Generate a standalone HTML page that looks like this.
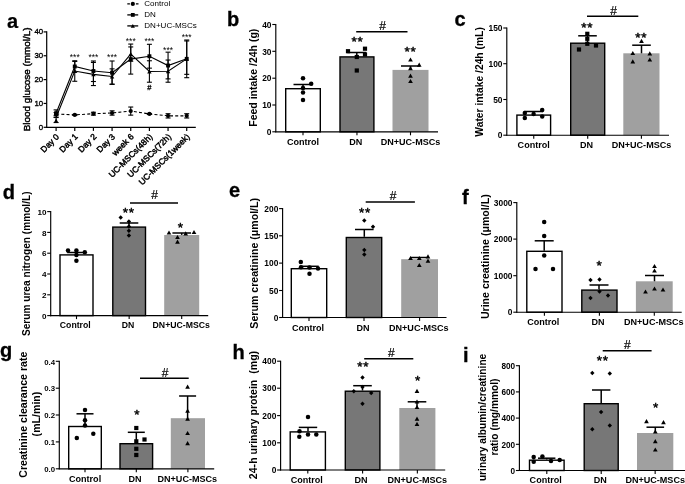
<!DOCTYPE html><html><head><meta charset="utf-8"><title>Figure</title>
<style>html,body{margin:0;padding:0;background:#fff;}svg{display:block;will-change:transform;filter:grayscale(1) blur(0.35px);}text{font-family:"Liberation Sans",sans-serif;fill:#000;}</style></head><body>
<svg width="685" height="484" viewBox="0 0 685 484">
<rect width="685" height="484" fill="#fff"/>
<line x1="46.70" y1="31.30" x2="46.70" y2="127.90" stroke="#000" stroke-width="1.2" />
<line x1="46.10" y1="127.30" x2="195.80" y2="127.30" stroke="#000" stroke-width="1.2" />
<line x1="43.60" y1="127.30" x2="46.70" y2="127.30" stroke="#000" stroke-width="1.2" />
<text x="43.20" y="129.80" font-size="7.8" font-weight="normal" text-anchor="end" stroke="#000" stroke-width="0.35">0</text>
<line x1="43.60" y1="103.45" x2="46.70" y2="103.45" stroke="#000" stroke-width="1.2" />
<text x="43.20" y="105.95" font-size="7.8" font-weight="normal" text-anchor="end" stroke="#000" stroke-width="0.35">10</text>
<line x1="43.60" y1="79.60" x2="46.70" y2="79.60" stroke="#000" stroke-width="1.2" />
<text x="43.20" y="82.10" font-size="7.8" font-weight="normal" text-anchor="end" stroke="#000" stroke-width="0.35">20</text>
<line x1="43.60" y1="55.75" x2="46.70" y2="55.75" stroke="#000" stroke-width="1.2" />
<text x="43.20" y="58.25" font-size="7.8" font-weight="normal" text-anchor="end" stroke="#000" stroke-width="0.35">30</text>
<line x1="43.60" y1="31.90" x2="46.70" y2="31.90" stroke="#000" stroke-width="1.2" />
<text x="43.20" y="34.40" font-size="7.8" font-weight="normal" text-anchor="end" stroke="#000" stroke-width="0.35">40</text>
<line x1="56.10" y1="127.30" x2="56.10" y2="130.90" stroke="#000" stroke-width="1.2" />
<line x1="74.76" y1="127.30" x2="74.76" y2="130.90" stroke="#000" stroke-width="1.2" />
<line x1="93.42" y1="127.30" x2="93.42" y2="130.90" stroke="#000" stroke-width="1.2" />
<line x1="112.08" y1="127.30" x2="112.08" y2="130.90" stroke="#000" stroke-width="1.2" />
<line x1="130.74" y1="127.30" x2="130.74" y2="130.90" stroke="#000" stroke-width="1.2" />
<line x1="149.40" y1="127.30" x2="149.40" y2="130.90" stroke="#000" stroke-width="1.2" />
<line x1="168.06" y1="127.30" x2="168.06" y2="130.90" stroke="#000" stroke-width="1.2" />
<line x1="186.72" y1="127.30" x2="186.72" y2="130.90" stroke="#000" stroke-width="1.2" />
<text x="59.70" y="137.30" font-size="8.45" font-weight="normal" text-anchor="end" transform="rotate(-45 59.70 137.30)" stroke="#000" stroke-width="0.45">Day 0</text>
<text x="78.36" y="137.30" font-size="8.45" font-weight="normal" text-anchor="end" transform="rotate(-45 78.36 137.30)" stroke="#000" stroke-width="0.45">Day 1</text>
<text x="97.02" y="137.30" font-size="8.45" font-weight="normal" text-anchor="end" transform="rotate(-45 97.02 137.30)" stroke="#000" stroke-width="0.45">Day 2</text>
<text x="115.68" y="137.30" font-size="8.45" font-weight="normal" text-anchor="end" transform="rotate(-45 115.68 137.30)" stroke="#000" stroke-width="0.45">Day 3</text>
<text x="134.34" y="137.30" font-size="8.45" font-weight="normal" text-anchor="end" transform="rotate(-45 134.34 137.30)" stroke="#000" stroke-width="0.45">week 6</text>
<text x="153.00" y="137.30" font-size="8.45" font-weight="normal" text-anchor="end" transform="rotate(-45 153.00 137.30)" stroke="#000" stroke-width="0.45">UC-MSCs(48h)</text>
<text x="171.66" y="137.30" font-size="8.45" font-weight="normal" text-anchor="end" transform="rotate(-45 171.66 137.30)" stroke="#000" stroke-width="0.45">UC-MSCs(72h)</text>
<text x="190.32" y="137.30" font-size="8.45" font-weight="normal" text-anchor="end" transform="rotate(-45 190.32 137.30)" stroke="#000" stroke-width="0.45">UC-MSCs(1week)</text>
<text x="29.70" y="79.40" font-size="9.9" font-weight="normal" text-anchor="middle" transform="rotate(-90 29.70 79.40)" stroke="#000" stroke-width="0.45">Blood glucose (mmol/L)</text>
<text x="7.00" y="27.50" font-size="20" font-weight="bold" text-anchor="start" stroke="#000" stroke-width="0.2">a</text>
<polyline points="56.10,113.94 74.76,114.90 93.42,113.71 112.08,112.99 130.74,111.08 149.40,113.94 168.06,115.85 186.72,115.85" fill="none" stroke="#000" stroke-width="1.1" stroke-dasharray="3 2.2"/>
<polyline points="56.10,113.23 74.76,66.48 93.42,71.01 112.08,72.68 130.74,59.09 149.40,56.23 168.06,65.53 186.72,58.85" fill="none" stroke="#000" stroke-width="1.1"/>
<polyline points="56.10,117.52 74.76,71.01 93.42,74.35 112.08,76.50 130.74,54.08 149.40,71.49 168.06,71.25 186.72,58.85" fill="none" stroke="#000" stroke-width="1.1"/>
<line x1="56.10" y1="112.51" x2="56.10" y2="115.38" stroke="#000" stroke-width="1.1" />
<line x1="53.60" y1="112.51" x2="58.60" y2="112.51" stroke="#000" stroke-width="1.1" />
<line x1="53.60" y1="115.38" x2="58.60" y2="115.38" stroke="#000" stroke-width="1.1" />
<line x1="56.10" y1="109.89" x2="56.10" y2="117.52" stroke="#000" stroke-width="1.1" />
<line x1="53.60" y1="109.89" x2="58.60" y2="109.89" stroke="#000" stroke-width="1.1" />
<line x1="53.60" y1="117.52" x2="58.60" y2="117.52" stroke="#000" stroke-width="1.1" />
<line x1="56.10" y1="117.04" x2="56.10" y2="122.53" stroke="#000" stroke-width="1.1" />
<line x1="53.60" y1="117.04" x2="58.60" y2="117.04" stroke="#000" stroke-width="1.1" />
<line x1="53.60" y1="122.53" x2="58.60" y2="122.53" stroke="#000" stroke-width="1.1" />
<circle cx="56.10" cy="113.94" r="2.1" fill="#000"/>
<rect x="54.15" y="111.28" width="3.9" height="3.9" fill="#000"/>
<path d="M56.10 118.52 L58.30 122.48 L53.90 122.48Z" fill="#000"/>
<line x1="74.76" y1="114.42" x2="74.76" y2="115.38" stroke="#000" stroke-width="1.1" />
<line x1="72.26" y1="114.42" x2="77.26" y2="114.42" stroke="#000" stroke-width="1.1" />
<line x1="72.26" y1="115.38" x2="77.26" y2="115.38" stroke="#000" stroke-width="1.1" />
<line x1="74.76" y1="60.76" x2="74.76" y2="72.21" stroke="#000" stroke-width="1.1" />
<line x1="72.26" y1="60.76" x2="77.26" y2="60.76" stroke="#000" stroke-width="1.1" />
<line x1="72.26" y1="72.21" x2="77.26" y2="72.21" stroke="#000" stroke-width="1.1" />
<line x1="74.76" y1="61.47" x2="74.76" y2="81.27" stroke="#000" stroke-width="1.1" />
<line x1="72.26" y1="61.47" x2="77.26" y2="61.47" stroke="#000" stroke-width="1.1" />
<line x1="72.26" y1="81.27" x2="77.26" y2="81.27" stroke="#000" stroke-width="1.1" />
<circle cx="74.76" cy="114.90" r="2.1" fill="#000"/>
<rect x="72.81" y="64.53" width="3.9" height="3.9" fill="#000"/>
<path d="M74.76 69.03 L76.96 72.99 L72.56 72.99Z" fill="#000"/>
<line x1="93.42" y1="112.27" x2="93.42" y2="115.14" stroke="#000" stroke-width="1.1" />
<line x1="90.92" y1="112.27" x2="95.92" y2="112.27" stroke="#000" stroke-width="1.1" />
<line x1="90.92" y1="115.14" x2="95.92" y2="115.14" stroke="#000" stroke-width="1.1" />
<line x1="93.42" y1="61.00" x2="93.42" y2="81.51" stroke="#000" stroke-width="1.1" />
<line x1="90.92" y1="61.00" x2="95.92" y2="61.00" stroke="#000" stroke-width="1.1" />
<line x1="90.92" y1="81.51" x2="95.92" y2="81.51" stroke="#000" stroke-width="1.1" />
<line x1="93.42" y1="62.43" x2="93.42" y2="85.56" stroke="#000" stroke-width="1.1" />
<line x1="90.92" y1="62.43" x2="95.92" y2="62.43" stroke="#000" stroke-width="1.1" />
<line x1="90.92" y1="85.56" x2="95.92" y2="85.56" stroke="#000" stroke-width="1.1" />
<circle cx="93.42" cy="113.71" r="2.1" fill="#000"/>
<rect x="91.47" y="69.06" width="3.9" height="3.9" fill="#000"/>
<path d="M93.42 72.37 L95.62 76.33 L91.22 76.33Z" fill="#000"/>
<line x1="112.08" y1="110.84" x2="112.08" y2="115.14" stroke="#000" stroke-width="1.1" />
<line x1="109.58" y1="110.84" x2="114.58" y2="110.84" stroke="#000" stroke-width="1.1" />
<line x1="109.58" y1="115.14" x2="114.58" y2="115.14" stroke="#000" stroke-width="1.1" />
<line x1="112.08" y1="61.00" x2="112.08" y2="84.37" stroke="#000" stroke-width="1.1" />
<line x1="109.58" y1="61.00" x2="114.58" y2="61.00" stroke="#000" stroke-width="1.1" />
<line x1="109.58" y1="84.37" x2="114.58" y2="84.37" stroke="#000" stroke-width="1.1" />
<line x1="112.08" y1="68.87" x2="112.08" y2="84.13" stroke="#000" stroke-width="1.1" />
<line x1="109.58" y1="68.87" x2="114.58" y2="68.87" stroke="#000" stroke-width="1.1" />
<line x1="109.58" y1="84.13" x2="114.58" y2="84.13" stroke="#000" stroke-width="1.1" />
<circle cx="112.08" cy="112.99" r="2.1" fill="#000"/>
<rect x="110.13" y="70.73" width="3.9" height="3.9" fill="#000"/>
<path d="M112.08 74.52 L114.28 78.48 L109.88 78.48Z" fill="#000"/>
<line x1="130.74" y1="107.03" x2="130.74" y2="115.14" stroke="#000" stroke-width="1.1" />
<line x1="128.24" y1="107.03" x2="133.24" y2="107.03" stroke="#000" stroke-width="1.1" />
<line x1="128.24" y1="115.14" x2="133.24" y2="115.14" stroke="#000" stroke-width="1.1" />
<line x1="130.74" y1="44.06" x2="130.74" y2="74.11" stroke="#000" stroke-width="1.1" />
<line x1="128.24" y1="44.06" x2="133.24" y2="44.06" stroke="#000" stroke-width="1.1" />
<line x1="128.24" y1="74.11" x2="133.24" y2="74.11" stroke="#000" stroke-width="1.1" />
<line x1="130.74" y1="46.93" x2="130.74" y2="61.24" stroke="#000" stroke-width="1.1" />
<line x1="128.24" y1="46.93" x2="133.24" y2="46.93" stroke="#000" stroke-width="1.1" />
<line x1="128.24" y1="61.24" x2="133.24" y2="61.24" stroke="#000" stroke-width="1.1" />
<circle cx="130.74" cy="111.08" r="2.1" fill="#000"/>
<rect x="128.79" y="57.14" width="3.9" height="3.9" fill="#000"/>
<path d="M130.74 52.10 L132.94 56.06 L128.54 56.06Z" fill="#000"/>
<line x1="149.40" y1="113.47" x2="149.40" y2="114.42" stroke="#000" stroke-width="1.1" />
<line x1="146.90" y1="113.47" x2="151.90" y2="113.47" stroke="#000" stroke-width="1.1" />
<line x1="146.90" y1="114.42" x2="151.90" y2="114.42" stroke="#000" stroke-width="1.1" />
<line x1="149.40" y1="44.30" x2="149.40" y2="68.15" stroke="#000" stroke-width="1.1" />
<line x1="146.90" y1="44.30" x2="151.90" y2="44.30" stroke="#000" stroke-width="1.1" />
<line x1="146.90" y1="68.15" x2="151.90" y2="68.15" stroke="#000" stroke-width="1.1" />
<line x1="149.40" y1="60.76" x2="149.40" y2="82.22" stroke="#000" stroke-width="1.1" />
<line x1="146.90" y1="60.76" x2="151.90" y2="60.76" stroke="#000" stroke-width="1.1" />
<line x1="146.90" y1="82.22" x2="151.90" y2="82.22" stroke="#000" stroke-width="1.1" />
<circle cx="149.40" cy="113.94" r="2.1" fill="#000"/>
<rect x="147.45" y="54.28" width="3.9" height="3.9" fill="#000"/>
<path d="M149.40 69.51 L151.60 73.47 L147.20 73.47Z" fill="#000"/>
<line x1="168.06" y1="113.71" x2="168.06" y2="118.00" stroke="#000" stroke-width="1.1" />
<line x1="165.56" y1="113.71" x2="170.56" y2="113.71" stroke="#000" stroke-width="1.1" />
<line x1="165.56" y1="118.00" x2="170.56" y2="118.00" stroke="#000" stroke-width="1.1" />
<line x1="168.06" y1="52.17" x2="168.06" y2="78.88" stroke="#000" stroke-width="1.1" />
<line x1="165.56" y1="52.17" x2="170.56" y2="52.17" stroke="#000" stroke-width="1.1" />
<line x1="165.56" y1="78.88" x2="170.56" y2="78.88" stroke="#000" stroke-width="1.1" />
<line x1="168.06" y1="60.04" x2="168.06" y2="82.22" stroke="#000" stroke-width="1.1" />
<line x1="165.56" y1="60.04" x2="170.56" y2="60.04" stroke="#000" stroke-width="1.1" />
<line x1="165.56" y1="82.22" x2="170.56" y2="82.22" stroke="#000" stroke-width="1.1" />
<circle cx="168.06" cy="115.85" r="2.1" fill="#000"/>
<rect x="166.11" y="63.58" width="3.9" height="3.9" fill="#000"/>
<path d="M168.06 69.27 L170.26 73.23 L165.86 73.23Z" fill="#000"/>
<line x1="186.72" y1="113.71" x2="186.72" y2="118.00" stroke="#000" stroke-width="1.1" />
<line x1="184.22" y1="113.71" x2="189.22" y2="113.71" stroke="#000" stroke-width="1.1" />
<line x1="184.22" y1="118.00" x2="189.22" y2="118.00" stroke="#000" stroke-width="1.1" />
<line x1="186.72" y1="40.01" x2="186.72" y2="77.69" stroke="#000" stroke-width="1.1" />
<line x1="184.22" y1="40.01" x2="189.22" y2="40.01" stroke="#000" stroke-width="1.1" />
<line x1="184.22" y1="77.69" x2="189.22" y2="77.69" stroke="#000" stroke-width="1.1" />
<line x1="186.72" y1="40.96" x2="186.72" y2="74.35" stroke="#000" stroke-width="1.1" />
<line x1="184.22" y1="40.96" x2="189.22" y2="40.96" stroke="#000" stroke-width="1.1" />
<line x1="184.22" y1="74.35" x2="189.22" y2="74.35" stroke="#000" stroke-width="1.1" />
<circle cx="186.72" cy="115.85" r="2.1" fill="#000"/>
<rect x="184.77" y="56.90" width="3.9" height="3.9" fill="#000"/>
<path d="M186.72 56.87 L188.92 60.83 L184.52 60.83Z" fill="#000"/>
<text x="74.76" y="60.00" font-size="8.5" font-weight="normal" text-anchor="middle" >***</text>
<text x="93.42" y="60.00" font-size="8.5" font-weight="normal" text-anchor="middle" >***</text>
<text x="112.08" y="60.00" font-size="8.5" font-weight="normal" text-anchor="middle" >***</text>
<text x="130.74" y="43.90" font-size="8.5" font-weight="normal" text-anchor="middle" >***</text>
<text x="149.40" y="43.90" font-size="8.5" font-weight="normal" text-anchor="middle" >***</text>
<text x="168.06" y="52.50" font-size="8.5" font-weight="normal" text-anchor="middle" >***</text>
<text x="186.72" y="39.90" font-size="8.5" font-weight="normal" text-anchor="middle" >***</text>
<text x="149.40" y="89.60" font-size="7.6" font-weight="normal" text-anchor="middle" stroke="#000" stroke-width="0.3">#</text>
<line x1="127.30" y1="3.90" x2="138.50" y2="3.90" stroke="#000" stroke-width="1.2" stroke-dasharray="2.6 1.7"/>
<circle cx="132.80" cy="3.90" r="2.1" fill="#000"/>
<text x="144.30" y="6.10" font-size="8.05" font-weight="normal" text-anchor="start" >Control</text>
<line x1="127.30" y1="14.90" x2="138.20" y2="14.90" stroke="#000" stroke-width="1.3" />
<rect x="130.90" y="13.00" width="3.8" height="3.8" fill="#000"/>
<text x="144.30" y="17.10" font-size="8.05" font-weight="normal" text-anchor="start" >DN</text>
<line x1="127.30" y1="25.90" x2="138.20" y2="25.90" stroke="#000" stroke-width="1.3" />
<path d="M132.80 24.01 L134.90 27.79 L130.70 27.79Z" fill="#000"/>
<text x="144.30" y="28.10" font-size="8.05" font-weight="normal" text-anchor="start" >DN+UC-MSCs</text>
<rect x="285.70" y="88.70" width="34.60" height="43.10" fill="#fff" stroke="#000" stroke-width="1.4"/>
<rect x="340.00" y="56.90" width="33.90" height="74.90" fill="#777777" stroke="#000" stroke-width="1.4"/>
<rect x="392.50" y="69.90" width="36.00" height="61.90" fill="#a0a0a0"/>
<line x1="275.80" y1="23.95" x2="275.80" y2="132.35" stroke="#000" stroke-width="1.15" />
<line x1="275.25" y1="131.80" x2="438.00" y2="131.80" stroke="#000" stroke-width="1.15" />
<line x1="272.30" y1="24.50" x2="275.80" y2="24.50" stroke="#000" stroke-width="1.1" />
<text x="271.50" y="27.70" font-size="8.4" font-weight="bold" text-anchor="end" >40</text>
<line x1="272.30" y1="51.30" x2="275.80" y2="51.30" stroke="#000" stroke-width="1.1" />
<text x="271.50" y="54.50" font-size="8.4" font-weight="bold" text-anchor="end" >30</text>
<line x1="272.30" y1="78.20" x2="275.80" y2="78.20" stroke="#000" stroke-width="1.1" />
<text x="271.50" y="81.40" font-size="8.4" font-weight="bold" text-anchor="end" >20</text>
<line x1="272.30" y1="105.00" x2="275.80" y2="105.00" stroke="#000" stroke-width="1.1" />
<text x="271.50" y="108.20" font-size="8.4" font-weight="bold" text-anchor="end" >10</text>
<line x1="272.30" y1="131.80" x2="275.80" y2="131.80" stroke="#000" stroke-width="1.1" />
<text x="271.50" y="135.00" font-size="8.4" font-weight="bold" text-anchor="end" >0</text>
<line x1="303.00" y1="131.80" x2="303.00" y2="135.30" stroke="#000" stroke-width="1.1" />
<line x1="356.95" y1="131.80" x2="356.95" y2="135.30" stroke="#000" stroke-width="1.1" />
<line x1="410.50" y1="131.80" x2="410.50" y2="135.30" stroke="#000" stroke-width="1.1" />
<text x="303.00" y="144.60" font-size="9.05" font-weight="bold" text-anchor="middle" >Control</text>
<text x="355.80" y="144.60" font-size="9.05" font-weight="bold" text-anchor="middle" >DN</text>
<text x="410.50" y="144.60" font-size="9.05" font-weight="bold" text-anchor="middle" >DN+UC-MSCs</text>
<line x1="303.00" y1="84.50" x2="303.00" y2="88.00" stroke="#000" stroke-width="1.5" />
<line x1="293.50" y1="84.50" x2="312.50" y2="84.50" stroke="#000" stroke-width="1.5" />
<line x1="356.80" y1="52.50" x2="356.80" y2="56.20" stroke="#000" stroke-width="1.5" />
<line x1="347.30" y1="52.50" x2="366.30" y2="52.50" stroke="#000" stroke-width="1.5" />
<line x1="410.50" y1="66.00" x2="410.50" y2="69.50" stroke="#000" stroke-width="1.5" />
<line x1="401.00" y1="66.00" x2="420.00" y2="66.00" stroke="#000" stroke-width="1.5" />
<circle cx="303.00" cy="78.20" r="2.25" fill="#000"/>
<circle cx="311.20" cy="83.70" r="2.25" fill="#000"/>
<circle cx="303.00" cy="88.00" r="2.25" fill="#000"/>
<circle cx="303.00" cy="92.50" r="2.25" fill="#000"/>
<circle cx="303.00" cy="100.00" r="2.25" fill="#000"/>
<rect x="345.90" y="49.10" width="4.2" height="4.2" fill="#000"/>
<rect x="362.90" y="46.60" width="4.2" height="4.2" fill="#000"/>
<rect x="362.90" y="52.40" width="4.2" height="4.2" fill="#000"/>
<rect x="354.70" y="54.90" width="4.2" height="4.2" fill="#000"/>
<rect x="354.70" y="68.40" width="4.2" height="4.2" fill="#000"/>
<path d="M410.50 57.38 L412.85 61.62 L408.15 61.62Z" fill="#000"/>
<path d="M419.20 62.59 L421.55 66.81 L416.85 66.81Z" fill="#000"/>
<path d="M410.50 66.09 L412.85 70.31 L408.15 70.31Z" fill="#000"/>
<path d="M410.50 73.59 L412.85 77.81 L408.15 77.81Z" fill="#000"/>
<path d="M410.50 78.89 L412.85 83.11 L408.15 83.11Z" fill="#000"/>
<line x1="356.20" y1="31.80" x2="407.50" y2="31.80" stroke="#000" stroke-width="1.5" />
<text x="382.50" y="30.20" font-size="12" font-weight="normal" text-anchor="middle" stroke="#000" stroke-width="0.2">#</text>
<text x="357.50" y="46.00" font-size="13.5" font-weight="normal" text-anchor="middle" stroke="#000" stroke-width="0.45" letter-spacing="0.7">**</text>
<text x="410.50" y="56.00" font-size="13.5" font-weight="normal" text-anchor="middle" stroke="#000" stroke-width="0.45" letter-spacing="0.7">**</text>
<text x="256.60" y="77.70" font-size="10.5" font-weight="bold" text-anchor="middle" transform="rotate(-90 256.60 77.70)" >Feed intake /24h (g)</text>
<text x="227.00" y="26.00" font-size="20" font-weight="bold" text-anchor="start" stroke="#000" stroke-width="0.3">b</text>
<rect x="516.90" y="115.10" width="33.70" height="20.10" fill="#fff" stroke="#000" stroke-width="1.4"/>
<rect x="570.70" y="43.20" width="34.00" height="92.00" fill="#777777" stroke="#000" stroke-width="1.4"/>
<rect x="623.30" y="53.30" width="36.20" height="81.90" fill="#a0a0a0"/>
<line x1="506.80" y1="27.45" x2="506.80" y2="135.75" stroke="#000" stroke-width="1.15" />
<line x1="506.25" y1="135.20" x2="669.00" y2="135.20" stroke="#000" stroke-width="1.15" />
<line x1="503.30" y1="28.00" x2="506.80" y2="28.00" stroke="#000" stroke-width="1.1" />
<text x="502.50" y="31.20" font-size="8.4" font-weight="bold" text-anchor="end" >150</text>
<line x1="503.30" y1="63.70" x2="506.80" y2="63.70" stroke="#000" stroke-width="1.1" />
<text x="502.50" y="66.90" font-size="8.4" font-weight="bold" text-anchor="end" >100</text>
<line x1="503.30" y1="99.50" x2="506.80" y2="99.50" stroke="#000" stroke-width="1.1" />
<text x="502.50" y="102.70" font-size="8.4" font-weight="bold" text-anchor="end" >50</text>
<line x1="503.30" y1="135.20" x2="506.80" y2="135.20" stroke="#000" stroke-width="1.1" />
<text x="502.50" y="138.40" font-size="8.4" font-weight="bold" text-anchor="end" >0</text>
<line x1="533.75" y1="135.20" x2="533.75" y2="138.70" stroke="#000" stroke-width="1.1" />
<line x1="587.70" y1="135.20" x2="587.70" y2="138.70" stroke="#000" stroke-width="1.1" />
<line x1="641.40" y1="135.20" x2="641.40" y2="138.70" stroke="#000" stroke-width="1.1" />
<text x="533.70" y="147.80" font-size="9.05" font-weight="bold" text-anchor="middle" >Control</text>
<text x="586.60" y="147.80" font-size="9.05" font-weight="bold" text-anchor="middle" >DN</text>
<text x="641.50" y="147.80" font-size="9.05" font-weight="bold" text-anchor="middle" >DN+UC-MSCs</text>
<line x1="533.70" y1="111.50" x2="533.70" y2="114.80" stroke="#000" stroke-width="1.5" />
<line x1="524.40" y1="111.50" x2="543.00" y2="111.50" stroke="#000" stroke-width="1.5" />
<line x1="587.50" y1="35.80" x2="587.50" y2="42.50" stroke="#000" stroke-width="1.5" />
<line x1="578.20" y1="35.80" x2="596.80" y2="35.80" stroke="#000" stroke-width="1.5" />
<line x1="641.50" y1="45.20" x2="641.50" y2="53.30" stroke="#000" stroke-width="1.5" />
<line x1="632.20" y1="45.20" x2="650.80" y2="45.20" stroke="#000" stroke-width="1.5" />
<circle cx="524.80" cy="112.90" r="2.25" fill="#000"/>
<circle cx="524.80" cy="117.90" r="2.25" fill="#000"/>
<circle cx="533.60" cy="114.00" r="2.25" fill="#000"/>
<circle cx="542.20" cy="110.10" r="2.25" fill="#000"/>
<circle cx="542.20" cy="116.50" r="2.25" fill="#000"/>
<rect x="576.90" y="47.40" width="4.2" height="4.2" fill="#000"/>
<rect x="585.20" y="31.70" width="4.2" height="4.2" fill="#000"/>
<rect x="585.20" y="36.70" width="4.2" height="4.2" fill="#000"/>
<rect x="585.20" y="41.70" width="4.2" height="4.2" fill="#000"/>
<rect x="593.90" y="43.40" width="4.2" height="4.2" fill="#000"/>
<path d="M641.50 38.68 L643.85 42.91 L639.15 42.91Z" fill="#000"/>
<path d="M632.80 50.88 L635.15 55.12 L630.45 55.12Z" fill="#000"/>
<path d="M649.80 51.18 L652.15 55.41 L647.45 55.41Z" fill="#000"/>
<path d="M632.80 59.18 L635.15 63.41 L630.45 63.41Z" fill="#000"/>
<path d="M649.80 57.38 L652.15 61.62 L647.45 61.62Z" fill="#000"/>
<line x1="587.00" y1="16.20" x2="638.30" y2="16.20" stroke="#000" stroke-width="1.5" />
<text x="613.50" y="14.70" font-size="12" font-weight="normal" text-anchor="middle" stroke="#000" stroke-width="0.2">#</text>
<text x="587.30" y="32.00" font-size="13.5" font-weight="normal" text-anchor="middle" stroke="#000" stroke-width="0.45" letter-spacing="0.7">**</text>
<text x="641.20" y="42.00" font-size="13.5" font-weight="normal" text-anchor="middle" stroke="#000" stroke-width="0.45" letter-spacing="0.7">**</text>
<text x="482.70" y="81.90" font-size="10.3" font-weight="bold" text-anchor="middle" transform="rotate(-90 482.70 81.90)" >Water intake /24h (mL)</text>
<text x="454.50" y="26.30" font-size="20" font-weight="bold" text-anchor="start" stroke="#000" stroke-width="0.3">c</text>
<rect x="60.00" y="254.90" width="33.00" height="60.70" fill="#fff" stroke="#000" stroke-width="1.4"/>
<rect x="112.80" y="227.10" width="32.70" height="88.50" fill="#777777" stroke="#000" stroke-width="1.4"/>
<rect x="164.20" y="235.00" width="35.00" height="80.60" fill="#a0a0a0"/>
<line x1="50.70" y1="211.05" x2="50.70" y2="316.15" stroke="#000" stroke-width="1.15" />
<line x1="50.15" y1="315.60" x2="208.20" y2="315.60" stroke="#000" stroke-width="1.15" />
<line x1="47.20" y1="211.60" x2="50.70" y2="211.60" stroke="#000" stroke-width="1.1" />
<text x="46.40" y="214.80" font-size="8.1" font-weight="bold" text-anchor="end" >10</text>
<line x1="47.20" y1="232.40" x2="50.70" y2="232.40" stroke="#000" stroke-width="1.1" />
<text x="46.40" y="235.60" font-size="8.1" font-weight="bold" text-anchor="end" >8</text>
<line x1="47.20" y1="253.20" x2="50.70" y2="253.20" stroke="#000" stroke-width="1.1" />
<text x="46.40" y="256.40" font-size="8.1" font-weight="bold" text-anchor="end" >6</text>
<line x1="47.20" y1="274.00" x2="50.70" y2="274.00" stroke="#000" stroke-width="1.1" />
<text x="46.40" y="277.20" font-size="8.1" font-weight="bold" text-anchor="end" >4</text>
<line x1="47.20" y1="294.80" x2="50.70" y2="294.80" stroke="#000" stroke-width="1.1" />
<text x="46.40" y="298.00" font-size="8.1" font-weight="bold" text-anchor="end" >2</text>
<line x1="47.20" y1="315.60" x2="50.70" y2="315.60" stroke="#000" stroke-width="1.1" />
<text x="46.40" y="318.80" font-size="8.1" font-weight="bold" text-anchor="end" >0</text>
<line x1="76.50" y1="315.60" x2="76.50" y2="319.10" stroke="#000" stroke-width="1.1" />
<line x1="129.15" y1="315.60" x2="129.15" y2="319.10" stroke="#000" stroke-width="1.1" />
<line x1="181.70" y1="315.60" x2="181.70" y2="319.10" stroke="#000" stroke-width="1.1" />
<text x="75.30" y="327.90" font-size="8.7" font-weight="bold" text-anchor="middle" >Control</text>
<text x="128.00" y="327.90" font-size="8.7" font-weight="bold" text-anchor="middle" >DN</text>
<text x="181.20" y="327.90" font-size="8.7" font-weight="bold" text-anchor="middle" >DN+UC-MSCs</text>
<line x1="76.50" y1="252.50" x2="76.50" y2="254.20" stroke="#000" stroke-width="1.5" />
<line x1="67.20" y1="252.50" x2="85.80" y2="252.50" stroke="#000" stroke-width="1.5" />
<line x1="129.00" y1="223.00" x2="129.00" y2="226.50" stroke="#000" stroke-width="1.5" />
<line x1="119.70" y1="223.00" x2="138.30" y2="223.00" stroke="#000" stroke-width="1.5" />
<line x1="181.70" y1="233.00" x2="181.70" y2="234.90" stroke="#000" stroke-width="1.5" />
<line x1="172.40" y1="233.00" x2="191.00" y2="233.00" stroke="#000" stroke-width="1.5" />
<circle cx="68.00" cy="250.50" r="2.25" fill="#000"/>
<circle cx="76.40" cy="250.50" r="2.25" fill="#000"/>
<circle cx="84.80" cy="252.30" r="2.25" fill="#000"/>
<circle cx="76.40" cy="255.00" r="2.25" fill="#000"/>
<circle cx="76.40" cy="260.80" r="2.25" fill="#000"/>
<path d="M120.70 215.30 L122.90 217.50 L120.70 219.70 L118.50 217.50Z" fill="#000"/>
<path d="M128.90 219.30 L131.10 221.50 L128.90 223.70 L126.70 221.50Z" fill="#000"/>
<path d="M128.90 224.30 L131.10 226.50 L128.90 228.70 L126.70 226.50Z" fill="#000"/>
<path d="M128.90 228.50 L131.10 230.70 L128.90 232.90 L126.70 230.70Z" fill="#000"/>
<path d="M128.90 233.30 L131.10 235.50 L128.90 237.70 L126.70 235.50Z" fill="#000"/>
<path d="M169.00 230.38 L171.35 234.62 L166.65 234.62Z" fill="#000"/>
<path d="M177.50 234.88 L179.85 239.12 L175.15 239.12Z" fill="#000"/>
<path d="M185.70 231.19 L188.05 235.42 L183.35 235.42Z" fill="#000"/>
<path d="M194.00 229.88 L196.35 234.12 L191.65 234.12Z" fill="#000"/>
<path d="M177.50 239.58 L179.85 243.81 L175.15 243.81Z" fill="#000"/>
<line x1="130.00" y1="203.00" x2="178.00" y2="203.00" stroke="#000" stroke-width="1.5" />
<text x="154.60" y="199.20" font-size="12" font-weight="normal" text-anchor="middle" stroke="#000" stroke-width="0.2">#</text>
<text x="128.80" y="217.00" font-size="13.5" font-weight="normal" text-anchor="middle" stroke="#000" stroke-width="0.45" letter-spacing="0.7">**</text>
<text x="180.80" y="231.70" font-size="13.5" font-weight="normal" text-anchor="middle" stroke="#000" stroke-width="0.45" letter-spacing="0.7">*</text>
<text x="30.20" y="263.80" font-size="10.15" font-weight="bold" text-anchor="middle" transform="rotate(-90 30.20 263.80)" >Serum urea nitrogen (mmol/L)</text>
<text x="2.70" y="198.60" font-size="20" font-weight="bold" text-anchor="start" stroke="#000" stroke-width="0.3">d</text>
<rect x="291.30" y="268.70" width="35.40" height="48.80" fill="#fff" stroke="#000" stroke-width="1.4"/>
<rect x="346.30" y="237.50" width="35.40" height="80.00" fill="#777777" stroke="#000" stroke-width="1.4"/>
<rect x="401.20" y="259.20" width="36.80" height="58.30" fill="#a0a0a0"/>
<line x1="282.60" y1="208.05" x2="282.60" y2="318.05" stroke="#000" stroke-width="1.15" />
<line x1="282.05" y1="317.50" x2="446.50" y2="317.50" stroke="#000" stroke-width="1.15" />
<line x1="279.10" y1="208.60" x2="282.60" y2="208.60" stroke="#000" stroke-width="1.1" />
<text x="278.30" y="211.80" font-size="8.4" font-weight="bold" text-anchor="end" >200</text>
<line x1="279.10" y1="235.80" x2="282.60" y2="235.80" stroke="#000" stroke-width="1.1" />
<text x="278.30" y="239.00" font-size="8.4" font-weight="bold" text-anchor="end" >150</text>
<line x1="279.10" y1="263.10" x2="282.60" y2="263.10" stroke="#000" stroke-width="1.1" />
<text x="278.30" y="266.30" font-size="8.4" font-weight="bold" text-anchor="end" >100</text>
<line x1="279.10" y1="290.50" x2="282.60" y2="290.50" stroke="#000" stroke-width="1.1" />
<text x="278.30" y="293.70" font-size="8.4" font-weight="bold" text-anchor="end" >50</text>
<line x1="279.10" y1="317.50" x2="282.60" y2="317.50" stroke="#000" stroke-width="1.1" />
<text x="278.30" y="320.70" font-size="8.4" font-weight="bold" text-anchor="end" >0</text>
<line x1="309.00" y1="317.50" x2="309.00" y2="321.00" stroke="#000" stroke-width="1.1" />
<line x1="364.00" y1="317.50" x2="364.00" y2="321.00" stroke="#000" stroke-width="1.1" />
<line x1="419.60" y1="317.50" x2="419.60" y2="321.00" stroke="#000" stroke-width="1.1" />
<text x="308.00" y="330.80" font-size="9.05" font-weight="bold" text-anchor="middle" >Control</text>
<text x="363.00" y="330.80" font-size="9.05" font-weight="bold" text-anchor="middle" >DN</text>
<text x="418.80" y="330.80" font-size="9.05" font-weight="bold" text-anchor="middle" >DN+UC-MSCs</text>
<line x1="309.40" y1="266.30" x2="309.40" y2="268.00" stroke="#000" stroke-width="1.5" />
<line x1="300.10" y1="266.30" x2="318.70" y2="266.30" stroke="#000" stroke-width="1.5" />
<line x1="364.30" y1="229.50" x2="364.30" y2="236.80" stroke="#000" stroke-width="1.5" />
<line x1="355.00" y1="229.50" x2="373.60" y2="229.50" stroke="#000" stroke-width="1.5" />
<line x1="419.30" y1="257.50" x2="419.30" y2="259.20" stroke="#000" stroke-width="1.5" />
<line x1="410.00" y1="257.50" x2="428.60" y2="257.50" stroke="#000" stroke-width="1.5" />
<circle cx="300.80" cy="262.00" r="2.25" fill="#000"/>
<circle cx="309.50" cy="273.70" r="2.25" fill="#000"/>
<circle cx="318.00" cy="268.60" r="2.25" fill="#000"/>
<circle cx="301.00" cy="267.20" r="2.25" fill="#000"/>
<circle cx="309.50" cy="267.60" r="2.25" fill="#000"/>
<path d="M364.30 218.30 L366.50 220.50 L364.30 222.70 L362.10 220.50Z" fill="#000"/>
<path d="M373.00 224.50 L375.20 226.70 L373.00 228.90 L370.80 226.70Z" fill="#000"/>
<path d="M364.30 247.80 L366.50 250.00 L364.30 252.20 L362.10 250.00Z" fill="#000"/>
<path d="M364.30 252.30 L366.50 254.50 L364.30 256.70 L362.10 254.50Z" fill="#000"/>
<path d="M410.50 255.88 L412.85 260.12 L408.15 260.12Z" fill="#000"/>
<path d="M419.30 255.88 L421.65 260.12 L416.95 260.12Z" fill="#000"/>
<path d="M428.00 254.19 L430.35 258.42 L425.65 258.42Z" fill="#000"/>
<path d="M419.30 262.88 L421.65 267.12 L416.95 267.12Z" fill="#000"/>
<path d="M428.00 258.58 L430.35 262.81 L425.65 262.81Z" fill="#000"/>
<line x1="365.70" y1="201.90" x2="414.90" y2="201.90" stroke="#000" stroke-width="1.5" />
<text x="393.00" y="200.20" font-size="12" font-weight="normal" text-anchor="middle" stroke="#000" stroke-width="0.2">#</text>
<text x="365.00" y="217.00" font-size="13.5" font-weight="normal" text-anchor="middle" stroke="#000" stroke-width="0.45" letter-spacing="0.7">**</text>
<text x="257.80" y="263.30" font-size="10.6" font-weight="bold" text-anchor="middle" transform="rotate(-90 257.80 263.30)" >Serum creatinine (μmol/L)</text>
<text x="228.90" y="197.00" font-size="20" font-weight="bold" text-anchor="start" stroke="#000" stroke-width="0.3">e</text>
<rect x="526.80" y="251.30" width="35.20" height="60.90" fill="#fff" stroke="#000" stroke-width="1.4"/>
<rect x="581.80" y="290.10" width="35.20" height="22.10" fill="#777777" stroke="#000" stroke-width="1.4"/>
<rect x="635.90" y="281.30" width="36.80" height="30.90" fill="#a0a0a0"/>
<line x1="516.80" y1="202.05" x2="516.80" y2="312.75" stroke="#000" stroke-width="1.15" />
<line x1="516.25" y1="312.20" x2="681.70" y2="312.20" stroke="#000" stroke-width="1.15" />
<line x1="513.30" y1="202.60" x2="516.80" y2="202.60" stroke="#000" stroke-width="1.1" />
<text x="512.50" y="205.80" font-size="8.4" font-weight="bold" text-anchor="end" >3000</text>
<line x1="513.30" y1="239.10" x2="516.80" y2="239.10" stroke="#000" stroke-width="1.1" />
<text x="512.50" y="242.30" font-size="8.4" font-weight="bold" text-anchor="end" >2000</text>
<line x1="513.30" y1="275.70" x2="516.80" y2="275.70" stroke="#000" stroke-width="1.1" />
<text x="512.50" y="278.90" font-size="8.4" font-weight="bold" text-anchor="end" >1000</text>
<line x1="513.30" y1="312.20" x2="516.80" y2="312.20" stroke="#000" stroke-width="1.1" />
<text x="512.50" y="315.40" font-size="8.4" font-weight="bold" text-anchor="end" >0</text>
<line x1="544.40" y1="312.20" x2="544.40" y2="315.70" stroke="#000" stroke-width="1.1" />
<line x1="599.40" y1="312.20" x2="599.40" y2="315.70" stroke="#000" stroke-width="1.1" />
<line x1="654.30" y1="312.20" x2="654.30" y2="315.70" stroke="#000" stroke-width="1.1" />
<text x="543.30" y="324.80" font-size="9.05" font-weight="bold" text-anchor="middle" >Control</text>
<text x="598.10" y="324.80" font-size="9.05" font-weight="bold" text-anchor="middle" >DN</text>
<text x="653.80" y="324.80" font-size="9.05" font-weight="bold" text-anchor="middle" >DN+UC-MSCs</text>
<line x1="544.20" y1="240.80" x2="544.20" y2="250.70" stroke="#000" stroke-width="1.5" />
<line x1="534.70" y1="240.80" x2="553.70" y2="240.80" stroke="#000" stroke-width="1.5" />
<line x1="599.00" y1="285.00" x2="599.00" y2="289.30" stroke="#000" stroke-width="1.5" />
<line x1="589.50" y1="285.00" x2="608.50" y2="285.00" stroke="#000" stroke-width="1.5" />
<line x1="654.50" y1="275.50" x2="654.50" y2="281.30" stroke="#000" stroke-width="1.5" />
<line x1="645.00" y1="275.50" x2="664.00" y2="275.50" stroke="#000" stroke-width="1.5" />
<circle cx="544.20" cy="222.00" r="2.25" fill="#000"/>
<circle cx="544.20" cy="236.00" r="2.25" fill="#000"/>
<circle cx="544.20" cy="255.50" r="2.25" fill="#000"/>
<circle cx="535.50" cy="269.00" r="2.25" fill="#000"/>
<circle cx="553.00" cy="269.00" r="2.25" fill="#000"/>
<path d="M590.50 277.80 L592.70 280.00 L590.50 282.20 L588.30 280.00Z" fill="#000"/>
<path d="M599.50 277.30 L601.70 279.50 L599.50 281.70 L597.30 279.50Z" fill="#000"/>
<path d="M599.50 289.30 L601.70 291.50 L599.50 293.70 L597.30 291.50Z" fill="#000"/>
<path d="M590.50 295.80 L592.70 298.00 L590.50 300.20 L588.30 298.00Z" fill="#000"/>
<path d="M608.00 293.30 L610.20 295.50 L608.00 297.70 L605.80 295.50Z" fill="#000"/>
<path d="M654.50 263.88 L656.85 268.12 L652.15 268.12Z" fill="#000"/>
<path d="M645.50 289.38 L647.85 293.62 L643.15 293.62Z" fill="#000"/>
<path d="M654.50 286.38 L656.85 290.62 L652.15 290.62Z" fill="#000"/>
<path d="M663.00 287.38 L665.35 291.62 L660.65 291.62Z" fill="#000"/>
<path d="M654.50 268.38 L656.85 272.62 L652.15 272.62Z" fill="#000"/>
<text x="599.40" y="269.80" font-size="13.5" font-weight="normal" text-anchor="middle" stroke="#000" stroke-width="0.45" letter-spacing="0.7">*</text>
<text x="488.70" y="256.70" font-size="10.6" font-weight="bold" text-anchor="middle" transform="rotate(-90 488.70 256.70)" >Urine creatinine (μmol/L)</text>
<text x="462.00" y="204.30" font-size="20" font-weight="bold" text-anchor="start" stroke="#000" stroke-width="0.3">f</text>
<rect x="68.70" y="426.50" width="32.60" height="42.30" fill="#fff" stroke="#000" stroke-width="1.4"/>
<rect x="120.00" y="443.70" width="32.60" height="25.10" fill="#777777" stroke="#000" stroke-width="1.4"/>
<rect x="170.80" y="418.20" width="34.20" height="50.60" fill="#a0a0a0"/>
<line x1="59.30" y1="360.75" x2="59.30" y2="469.35" stroke="#000" stroke-width="1.15" />
<line x1="58.75" y1="468.80" x2="214.20" y2="468.80" stroke="#000" stroke-width="1.15" />
<line x1="55.80" y1="361.30" x2="59.30" y2="361.30" stroke="#000" stroke-width="1.1" />
<text x="55.00" y="364.50" font-size="7.8" font-weight="bold" text-anchor="end" >0.4</text>
<line x1="55.80" y1="388.20" x2="59.30" y2="388.20" stroke="#000" stroke-width="1.1" />
<text x="55.00" y="391.40" font-size="7.8" font-weight="bold" text-anchor="end" >0.3</text>
<line x1="55.80" y1="415.00" x2="59.30" y2="415.00" stroke="#000" stroke-width="1.1" />
<text x="55.00" y="418.20" font-size="7.8" font-weight="bold" text-anchor="end" >0.2</text>
<line x1="55.80" y1="441.90" x2="59.30" y2="441.90" stroke="#000" stroke-width="1.1" />
<text x="55.00" y="445.10" font-size="7.8" font-weight="bold" text-anchor="end" >0.1</text>
<line x1="55.80" y1="468.80" x2="59.30" y2="468.80" stroke="#000" stroke-width="1.1" />
<text x="55.00" y="472.00" font-size="7.8" font-weight="bold" text-anchor="end" >0.0</text>
<line x1="85.00" y1="468.80" x2="85.00" y2="472.30" stroke="#000" stroke-width="1.1" />
<line x1="136.30" y1="468.80" x2="136.30" y2="472.30" stroke="#000" stroke-width="1.1" />
<line x1="187.90" y1="468.80" x2="187.90" y2="472.30" stroke="#000" stroke-width="1.1" />
<text x="85.10" y="481.90" font-size="9.05" font-weight="bold" text-anchor="middle" >Control</text>
<text x="135.10" y="481.90" font-size="9.05" font-weight="bold" text-anchor="middle" >DN</text>
<text x="187.30" y="481.90" font-size="9.05" font-weight="bold" text-anchor="middle" >DN+UC-MSCs</text>
<line x1="85.00" y1="413.80" x2="85.00" y2="425.80" stroke="#000" stroke-width="1.5" />
<line x1="76.50" y1="413.80" x2="93.50" y2="413.80" stroke="#000" stroke-width="1.5" />
<line x1="136.30" y1="432.30" x2="136.30" y2="443.00" stroke="#000" stroke-width="1.5" />
<line x1="127.80" y1="432.30" x2="144.80" y2="432.30" stroke="#000" stroke-width="1.5" />
<line x1="187.60" y1="396.00" x2="187.60" y2="418.20" stroke="#000" stroke-width="1.5" />
<line x1="179.10" y1="396.00" x2="196.10" y2="396.00" stroke="#000" stroke-width="1.5" />
<circle cx="85.00" cy="410.00" r="2.25" fill="#000"/>
<circle cx="85.00" cy="420.20" r="2.25" fill="#000"/>
<circle cx="85.00" cy="425.50" r="2.25" fill="#000"/>
<circle cx="76.80" cy="438.00" r="2.25" fill="#000"/>
<circle cx="93.30" cy="433.80" r="2.25" fill="#000"/>
<rect x="134.20" y="425.90" width="4.2" height="4.2" fill="#000"/>
<rect x="142.40" y="437.40" width="4.2" height="4.2" fill="#000"/>
<rect x="134.20" y="439.20" width="4.2" height="4.2" fill="#000"/>
<rect x="134.20" y="446.70" width="4.2" height="4.2" fill="#000"/>
<rect x="134.20" y="452.90" width="4.2" height="4.2" fill="#000"/>
<path d="M187.60 384.58 L189.95 388.81 L185.25 388.81Z" fill="#000"/>
<path d="M187.60 408.58 L189.95 412.81 L185.25 412.81Z" fill="#000"/>
<path d="M187.60 416.58 L189.95 420.81 L185.25 420.81Z" fill="#000"/>
<path d="M187.60 430.88 L189.95 435.12 L185.25 435.12Z" fill="#000"/>
<path d="M187.60 441.08 L189.95 445.31 L185.25 445.31Z" fill="#000"/>
<line x1="140.00" y1="378.30" x2="188.70" y2="378.30" stroke="#000" stroke-width="1.5" />
<text x="165.00" y="376.70" font-size="12" font-weight="normal" text-anchor="middle" stroke="#000" stroke-width="0.2">#</text>
<text x="137.20" y="419.00" font-size="13.5" font-weight="normal" text-anchor="middle" stroke="#000" stroke-width="0.45" letter-spacing="0.7">*</text>
<text x="27.20" y="414.70" font-size="10.6" font-weight="bold" text-anchor="middle" transform="rotate(-90 27.20 414.70)" >Creatinine clearance rate</text>
<text x="39.50" y="414.00" font-size="10.6" font-weight="bold" text-anchor="middle" transform="rotate(-90 39.50 414.00)" >(mL/min)</text>
<text x="0.00" y="356.50" font-size="20" font-weight="bold" text-anchor="start" stroke="#000" stroke-width="0.3">g</text>
<rect x="290.20" y="431.90" width="35.20" height="38.10" fill="#fff" stroke="#000" stroke-width="1.4"/>
<rect x="345.30" y="391.20" width="34.60" height="78.80" fill="#777777" stroke="#000" stroke-width="1.4"/>
<rect x="399.30" y="408.00" width="36.10" height="62.00" fill="#a0a0a0"/>
<line x1="280.60" y1="360.65" x2="280.60" y2="470.55" stroke="#000" stroke-width="1.15" />
<line x1="280.05" y1="470.00" x2="445.20" y2="470.00" stroke="#000" stroke-width="1.15" />
<line x1="277.10" y1="361.20" x2="280.60" y2="361.20" stroke="#000" stroke-width="1.1" />
<text x="276.30" y="364.40" font-size="8.4" font-weight="bold" text-anchor="end" >400</text>
<line x1="277.10" y1="388.20" x2="280.60" y2="388.20" stroke="#000" stroke-width="1.1" />
<text x="276.30" y="391.40" font-size="8.4" font-weight="bold" text-anchor="end" >300</text>
<line x1="277.10" y1="415.60" x2="280.60" y2="415.60" stroke="#000" stroke-width="1.1" />
<text x="276.30" y="418.80" font-size="8.4" font-weight="bold" text-anchor="end" >200</text>
<line x1="277.10" y1="442.80" x2="280.60" y2="442.80" stroke="#000" stroke-width="1.1" />
<text x="276.30" y="446.00" font-size="8.4" font-weight="bold" text-anchor="end" >100</text>
<line x1="277.10" y1="470.00" x2="280.60" y2="470.00" stroke="#000" stroke-width="1.1" />
<text x="276.30" y="473.20" font-size="8.4" font-weight="bold" text-anchor="end" >0</text>
<line x1="307.80" y1="470.00" x2="307.80" y2="473.50" stroke="#000" stroke-width="1.1" />
<line x1="362.60" y1="470.00" x2="362.60" y2="473.50" stroke="#000" stroke-width="1.1" />
<line x1="417.35" y1="470.00" x2="417.35" y2="473.50" stroke="#000" stroke-width="1.1" />
<text x="306.80" y="482.80" font-size="9.05" font-weight="bold" text-anchor="middle" >Control</text>
<text x="361.10" y="482.80" font-size="9.05" font-weight="bold" text-anchor="middle" >DN</text>
<text x="417.30" y="482.80" font-size="9.05" font-weight="bold" text-anchor="middle" >DN+UC-MSCs</text>
<line x1="308.00" y1="427.40" x2="308.00" y2="431.20" stroke="#000" stroke-width="1.5" />
<line x1="298.80" y1="427.40" x2="317.20" y2="427.40" stroke="#000" stroke-width="1.5" />
<line x1="362.50" y1="385.70" x2="362.50" y2="390.50" stroke="#000" stroke-width="1.5" />
<line x1="353.20" y1="385.70" x2="371.80" y2="385.70" stroke="#000" stroke-width="1.5" />
<line x1="417.00" y1="401.80" x2="417.00" y2="408.00" stroke="#000" stroke-width="1.5" />
<line x1="407.70" y1="401.80" x2="426.30" y2="401.80" stroke="#000" stroke-width="1.5" />
<circle cx="308.00" cy="417.00" r="2.25" fill="#000"/>
<circle cx="299.30" cy="436.70" r="2.25" fill="#000"/>
<circle cx="308.00" cy="434.60" r="2.25" fill="#000"/>
<circle cx="316.30" cy="434.60" r="2.25" fill="#000"/>
<circle cx="299.50" cy="431.20" r="2.25" fill="#000"/>
<path d="M362.50 375.30 L364.70 377.50 L362.50 379.70 L360.30 377.50Z" fill="#000"/>
<path d="M353.80 389.00 L356.00 391.20 L353.80 393.40 L351.60 391.20Z" fill="#000"/>
<path d="M362.50 384.80 L364.70 387.00 L362.50 389.20 L360.30 387.00Z" fill="#000"/>
<path d="M371.20 390.80 L373.40 393.00 L371.20 395.20 L369.00 393.00Z" fill="#000"/>
<path d="M362.50 401.50 L364.70 403.70 L362.50 405.90 L360.30 403.70Z" fill="#000"/>
<path d="M417.00 388.69 L419.35 392.92 L414.65 392.92Z" fill="#000"/>
<path d="M417.00 399.38 L419.35 403.62 L414.65 403.62Z" fill="#000"/>
<path d="M417.00 404.88 L419.35 409.12 L414.65 409.12Z" fill="#000"/>
<path d="M417.00 416.58 L419.35 420.81 L414.65 420.81Z" fill="#000"/>
<path d="M417.00 421.69 L419.35 425.92 L414.65 425.92Z" fill="#000"/>
<line x1="364.20" y1="358.80" x2="413.30" y2="358.80" stroke="#000" stroke-width="1.5" />
<text x="391.30" y="357.20" font-size="12" font-weight="normal" text-anchor="middle" stroke="#000" stroke-width="0.2">#</text>
<text x="363.30" y="370.50" font-size="13.5" font-weight="normal" text-anchor="middle" stroke="#000" stroke-width="0.45" letter-spacing="0.7">**</text>
<text x="418.00" y="384.50" font-size="13.5" font-weight="normal" text-anchor="middle" stroke="#000" stroke-width="0.45" letter-spacing="0.7">*</text>
<text x="257.00" y="415.00" font-size="10.6" font-weight="bold" text-anchor="middle" transform="rotate(-90 257.00 415.00)" >24-h urinary protein&#160;&#160;(mg)</text>
<text x="232.50" y="358.50" font-size="20" font-weight="bold" text-anchor="start" stroke="#000" stroke-width="0.3">h</text>
<rect x="529.50" y="460.20" width="34.60" height="10.30" fill="#fff" stroke="#000" stroke-width="1.4"/>
<rect x="584.20" y="403.70" width="34.00" height="66.80" fill="#777777" stroke="#000" stroke-width="1.4"/>
<rect x="637.00" y="433.00" width="36.30" height="37.50" fill="#a0a0a0"/>
<line x1="519.40" y1="365.15" x2="519.40" y2="471.05" stroke="#000" stroke-width="1.15" />
<line x1="518.85" y1="470.50" x2="685.00" y2="470.50" stroke="#000" stroke-width="1.15" />
<line x1="515.90" y1="365.70" x2="519.40" y2="365.70" stroke="#000" stroke-width="1.1" />
<text x="515.10" y="368.90" font-size="8.2" font-weight="bold" text-anchor="end" >800</text>
<line x1="515.90" y1="391.90" x2="519.40" y2="391.90" stroke="#000" stroke-width="1.1" />
<text x="515.10" y="395.10" font-size="8.2" font-weight="bold" text-anchor="end" >600</text>
<line x1="515.90" y1="418.10" x2="519.40" y2="418.10" stroke="#000" stroke-width="1.1" />
<text x="515.10" y="421.30" font-size="8.2" font-weight="bold" text-anchor="end" >400</text>
<line x1="515.90" y1="444.30" x2="519.40" y2="444.30" stroke="#000" stroke-width="1.1" />
<text x="515.10" y="447.50" font-size="8.2" font-weight="bold" text-anchor="end" >200</text>
<line x1="515.90" y1="470.50" x2="519.40" y2="470.50" stroke="#000" stroke-width="1.1" />
<text x="515.10" y="473.70" font-size="8.2" font-weight="bold" text-anchor="end" >0</text>
<line x1="546.80" y1="470.50" x2="546.80" y2="474.00" stroke="#000" stroke-width="1.1" />
<line x1="601.20" y1="470.50" x2="601.20" y2="474.00" stroke="#000" stroke-width="1.1" />
<line x1="655.15" y1="470.50" x2="655.15" y2="474.00" stroke="#000" stroke-width="1.1" />
<text x="545.70" y="483.10" font-size="9.05" font-weight="bold" text-anchor="middle" >Control</text>
<text x="600.30" y="483.10" font-size="9.05" font-weight="bold" text-anchor="middle" >DN</text>
<text x="655.20" y="483.10" font-size="9.05" font-weight="bold" text-anchor="middle" >DN+UC-MSCs</text>
<line x1="546.70" y1="458.20" x2="546.70" y2="459.50" stroke="#000" stroke-width="1.5" />
<line x1="538.00" y1="458.20" x2="555.40" y2="458.20" stroke="#000" stroke-width="1.5" />
<line x1="601.20" y1="390.00" x2="601.20" y2="403.00" stroke="#000" stroke-width="1.5" />
<line x1="592.00" y1="390.00" x2="610.40" y2="390.00" stroke="#000" stroke-width="1.5" />
<line x1="655.30" y1="427.20" x2="655.30" y2="433.00" stroke="#000" stroke-width="1.5" />
<line x1="646.50" y1="427.20" x2="664.10" y2="427.20" stroke="#000" stroke-width="1.5" />
<circle cx="533.70" cy="456.90" r="2.25" fill="#000"/>
<circle cx="533.70" cy="461.80" r="2.25" fill="#000"/>
<circle cx="542.40" cy="456.40" r="2.25" fill="#000"/>
<circle cx="551.00" cy="460.90" r="2.25" fill="#000"/>
<circle cx="559.70" cy="459.90" r="2.25" fill="#000"/>
<path d="M592.30 370.80 L594.50 373.00 L592.30 375.20 L590.10 373.00Z" fill="#000"/>
<path d="M609.80 371.30 L612.00 373.50 L609.80 375.70 L607.60 373.50Z" fill="#000"/>
<path d="M601.10 409.80 L603.30 412.00 L601.10 414.20 L598.90 412.00Z" fill="#000"/>
<path d="M609.80 423.30 L612.00 425.50 L609.80 427.70 L607.60 425.50Z" fill="#000"/>
<path d="M592.30 427.00 L594.50 429.20 L592.30 431.40 L590.10 429.20Z" fill="#000"/>
<path d="M646.50 419.08 L648.85 423.31 L644.15 423.31Z" fill="#000"/>
<path d="M663.50 420.08 L665.85 424.31 L661.15 424.31Z" fill="#000"/>
<path d="M655.30 429.38 L657.65 433.62 L652.95 433.62Z" fill="#000"/>
<path d="M655.30 439.08 L657.65 443.31 L652.95 443.31Z" fill="#000"/>
<path d="M655.30 447.38 L657.65 451.62 L652.95 451.62Z" fill="#000"/>
<line x1="602.70" y1="350.80" x2="651.60" y2="350.80" stroke="#000" stroke-width="1.5" />
<text x="627.30" y="349.20" font-size="12" font-weight="normal" text-anchor="middle" stroke="#000" stroke-width="0.2">#</text>
<text x="602.70" y="365.20" font-size="13.5" font-weight="normal" text-anchor="middle" stroke="#000" stroke-width="0.45" letter-spacing="0.7">**</text>
<text x="655.90" y="412.30" font-size="13.5" font-weight="normal" text-anchor="middle" stroke="#000" stroke-width="0.45" letter-spacing="0.7">*</text>
<text x="485.60" y="417.40" font-size="10.2" font-weight="bold" text-anchor="middle" transform="rotate(-90 485.60 417.40)" >urinary albumin/creatinine</text>
<text x="498.10" y="417.00" font-size="10.2" font-weight="bold" text-anchor="middle" transform="rotate(-90 498.10 417.00)" >ratio (mg/mmol)</text>
<text x="463.00" y="361.70" font-size="20" font-weight="bold" text-anchor="start" stroke="#000" stroke-width="0.3">i</text>
</svg></body></html>
